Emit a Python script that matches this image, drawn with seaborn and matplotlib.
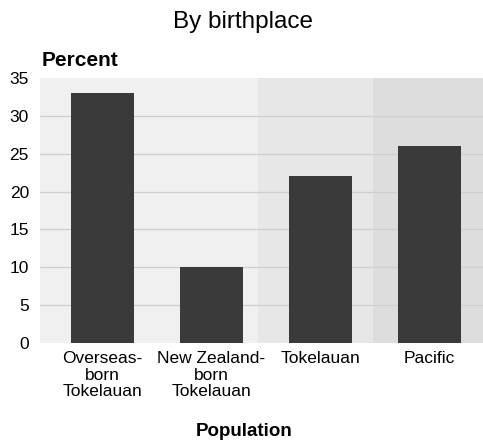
import matplotlib
matplotlib.use("Agg")
import matplotlib.pyplot as plt
import seaborn as sns
import pandas as pd

categories = ["Overseas-\nborn\nTokelauan", "New Zealand-\nborn\nTokelauan", "Tokelauan", "Pacific"]
values = [33, 10, 22, 26]
yticks = [0, 5, 10, 15, 20, 25, 30, 35]
subtitle = "By birthplace"
ylabel = "Percent"
xlabel = "Population"

sns.set_theme(style="white")
plt.rcParams['font.family'] = ['Liberation Sans', 'DejaVu Sans']
plt.rcParams['text.color'] = 'black'
plt.rcParams['xtick.color'] = 'black'
plt.rcParams['ytick.color'] = 'black'

df = pd.DataFrame({"cat": categories, "val": values})

fig = plt.figure(figsize=(4.83, 4.40), dpi=100)
ax = fig.add_axes([40/483, 97/440, 443/483, 265/440])

# background bands
ax.axvspan(-0.573, 1.427, color="#f0f0f0", zorder=0, lw=0)
ax.axvspan(1.427, 2.482, color="#e7e7e7", zorder=0, lw=0)
ax.axvspan(2.482, 3.6, color="#dddddd", zorder=0, lw=0)

for y in yticks[1:-1]:
    ax.axhline(y, color="#cfcfcf", lw=0.9, zorder=1)

sns.barplot(data=df, x="cat", y="val", color="#3a3a3a", width=0.578, ax=ax,
            saturation=1, zorder=2, linewidth=0)

ax.set_xlim(-0.573, 3.49)
ax.set_ylim(0, 35)
ax.set_yticks(yticks)
ax.set_yticklabels([str(t) for t in yticks], fontsize=12.5)
ax.tick_params(axis="y", length=0, pad=8)
ax.tick_params(axis="x", length=0, pad=6)
for lab in ax.get_xticklabels():
    lab.set_fontsize(12.5)
    lab.set_linespacing(1.1)
ax.set_xlabel("")
ax.set_ylabel("")
for s in ax.spines.values():
    s.set_visible(False)

fig.text(243/483, 1 - 28/440, subtitle, ha="center", va="baseline", fontsize=17.5)
fig.text(42/483, 1 - 66/440, ylabel, ha="left", va="baseline", fontsize=15, fontweight="bold")
fig.text(244/483, 1 - 436/440, xlabel, ha="center", va="baseline", fontsize=13.5, fontweight="bold")

fig.savefig("out.png", dpi=100)
